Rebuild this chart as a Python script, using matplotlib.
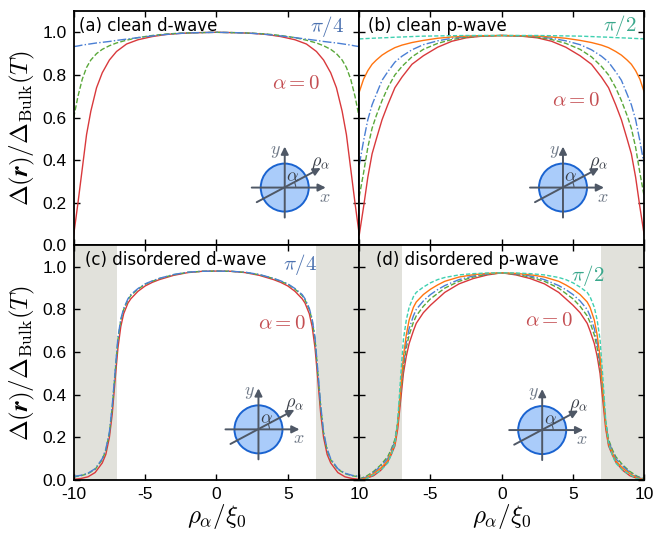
import numpy as np
import matplotlib
matplotlib.use('Agg')
import matplotlib.pyplot as plt
from matplotlib.patches import Circle, Arc

plt.rcParams['mathtext.fontset'] = 'cm'
plt.rcParams['axes.unicode_minus'] = False

# ---- data (left half, curves are mirror symmetric about 0) ----
x_clean = [-10, -9.7, -9.4, -9.1, -8.8, -8.4, -8.0, -7.5, -7.0, -6.3, -5.5, -4.5, -3.5, -2.5, -1.5, 0]

a_alpha0 = [0.05, 0.2, 0.36, 0.52, 0.63, 0.74, 0.81, 0.87, 0.91, 0.945, 0.965, 0.98, 0.99, 0.995, 0.998, 1.0]
a_mid = [0.6, 0.70, 0.78, 0.835, 0.87, 0.9, 0.92, 0.937, 0.95, 0.963, 0.975, 0.985, 0.992, 0.996, 0.998, 1.0]
a_pi4 = [0.933, 0.936, 0.94, 0.943, 0.946, 0.95, 0.953, 0.957, 0.962, 0.968, 0.975, 0.983, 0.99, 0.995, 0.998, 1.0]

b_alpha0 = [0.05, 0.18, 0.32, 0.43, 0.50, 0.59, 0.66, 0.74, 0.79, 0.85, 0.89, 0.93, 0.958, 0.974, 0.981, 0.985]
b_green = [0.23, 0.34, 0.46, 0.55, 0.61, 0.68, 0.74, 0.8, 0.84, 0.885, 0.92, 0.948, 0.966, 0.977, 0.982, 0.985]
b_blue = [0.378, 0.49, 0.59, 0.66, 0.71, 0.775, 0.815, 0.86, 0.888, 0.918, 0.942, 0.96, 0.972, 0.98, 0.983, 0.985]
b_orange = [0.72, 0.78, 0.82, 0.85, 0.87, 0.893, 0.91, 0.928, 0.94, 0.952, 0.962, 0.972, 0.978, 0.982, 0.984, 0.985]
b_pi2 = [0.969, 0.97, 0.971, 0.972, 0.973, 0.974, 0.975, 0.977, 0.978, 0.98, 0.982, 0.983, 0.984, 0.985, 0.985, 0.985]

x_dis = [-10, -9.5, -9, -8.5, -8, -7.75, -7.5, -7.3, -7.1, -6.9, -6.7, -6.5, -6.2, -6, -5.5, -5, -4.5, -4, -3, -2, -1, 0]

c_alpha0 = [0.003, 0.007, 0.015, 0.035, 0.08, 0.12, 0.2, 0.31, 0.47, 0.62, 0.72, 0.78, 0.83, 0.85, 0.885, 0.91, 0.927, 0.94, 0.96, 0.973, 0.979, 0.98]
c_green = [0.015, 0.02, 0.03, 0.05, 0.095, 0.14, 0.22, 0.34, 0.5, 0.66, 0.75, 0.8, 0.845, 0.865, 0.895, 0.918, 0.932, 0.945, 0.963, 0.974, 0.979, 0.98]
c_pi4 = [0.017, 0.022, 0.032, 0.053, 0.1, 0.145, 0.225, 0.35, 0.51, 0.67, 0.755, 0.805, 0.85, 0.87, 0.898, 0.92, 0.934, 0.946, 0.964, 0.975, 0.979, 0.98]

d_alpha0 = [0.0, 0.008, 0.02, 0.045, 0.085, 0.12, 0.16, 0.24, 0.37, 0.5, 0.58, 0.64, 0.7, 0.735, 0.785, 0.82, 0.85, 0.88, 0.92, 0.945, 0.962, 0.972]
d_green = [0.005, 0.018, 0.04, 0.07, 0.11, 0.145, 0.19, 0.27, 0.4, 0.53, 0.62, 0.68, 0.74, 0.77, 0.815, 0.85, 0.875, 0.9, 0.932, 0.952, 0.965, 0.972]
d_blue = [0.003, 0.014, 0.035, 0.065, 0.1, 0.14, 0.18, 0.27, 0.41, 0.55, 0.645, 0.71, 0.77, 0.8, 0.84, 0.87, 0.893, 0.912, 0.94, 0.957, 0.967, 0.972]
d_orange = [0.001, 0.01, 0.03, 0.055, 0.09, 0.13, 0.17, 0.26, 0.42, 0.58, 0.68, 0.75, 0.81, 0.835, 0.87, 0.895, 0.915, 0.932, 0.952, 0.963, 0.969, 0.972]
d_pi2 = [0.0, 0.006, 0.025, 0.045, 0.08, 0.12, 0.17, 0.28, 0.48, 0.66, 0.75, 0.81, 0.86, 0.88, 0.905, 0.925, 0.94, 0.95, 0.962, 0.968, 0.971, 0.972]

xticks = [-10, -5, 0, 5, 10]
yticks = [0.0, 0.2, 0.4, 0.6, 0.8, 1.0]

RED = '#d9393c'
GREEN = '#5aa83a'
BLUE = '#4a7fd4'
ORANGE = '#ff7410'
TEAL = '#3fd0b0'
GREY = '#e1e1db'
ARROW = '#4f5866'


def mirror(x, y):
    x = np.asarray(x, float)
    y = np.asarray(y, float)
    return np.concatenate([x, -x[-2::-1]]), np.concatenate([y, y[-2::-1]])


def draw_inset(ax, cx, cy):
    bb = ax.get_window_extent()
    w = 92.0 / bb.width
    h = 92.0 / bb.height
    ins = ax.inset_axes([cx - w / 2, cy - h / 2, w, h])
    ins.set_xlim(-46, 46)
    ins.set_ylim(-46, 46)
    ins.axis('off')
    ins.patch.set_alpha(0)
    ins.add_patch(Circle((0, 0), 24, facecolor='#aaccfa', edgecolor='#1a63d0', lw=1.4, zorder=1))
    kw = dict(arrowstyle='-|>', color=ARROW, lw=1.4, mutation_scale=11, shrinkA=0, shrinkB=0)
    ins.annotate('', xy=(41, 0), xytext=(-33, 0), arrowprops=kw)
    ins.annotate('', xy=(0, 41), xytext=(0, -30), arrowprops=kw)
    ins.annotate('', xy=(36, 19.5), xytext=(-28, -14.6), arrowprops=kw)
    ins.add_patch(Arc((0, 0), 22, 22, theta1=0, theta2=29, color=ARROW, lw=0.8))
    ins.text(-9, 37, r'$y$', color='#707a88', fontsize=13, ha='center', va='center')
    ins.text(40, -9, r'$x$', color='#707a88', fontsize=13, ha='center', va='center')
    ins.text(36, 26, r'$\rho_\alpha$', color='#3a3f48', fontsize=13, ha='center', va='center')
    ins.text(8, 11, r'$\alpha$', color='#3a3f48', fontsize=13, ha='center', va='center')


fig = plt.figure(figsize=(6.58, 5.33), dpi=100)
axa = fig.add_axes([0.112, 0.5394, 0.434, 0.44])
axb = fig.add_axes([0.546, 0.5394, 0.433, 0.44])
axc = fig.add_axes([0.112, 0.0994, 0.434, 0.44])
axd = fig.add_axes([0.546, 0.0994, 0.433, 0.44])

tickfs = 12.5
for ax in (axa, axb, axc, axd):
    ax.set_xlim(-10, 10)
    ax.set_ylim(0, 1.1)
    ax.set_xticks(xticks)
    ax.set_yticks(yticks)
    ax.tick_params(direction='in', top=True, right=True, length=4, width=1,
                   labelsize=tickfs, pad=5)
    for s in ax.spines.values():
        s.set_linewidth(1.3)

for ax in (axc, axd):
    ax.axvspan(-10, -7, color=GREY, lw=0, zorder=0)
    ax.axvspan(7, 10, color=GREY, lw=0, zorder=0)

axa.tick_params(labelbottom=False)
axb.tick_params(labelbottom=False, labelleft=False)
axd.tick_params(labelleft=False)
axd.set_xticklabels([''] + [str(t) for t in xticks[1:]])
axc.set_xticklabels([str(t) for t in xticks])
for ax in (axa, axb, axc, axd):
    for lab in ax.get_xticklabels() + ax.get_yticklabels():
        lab.set_family('Liberation Sans')

lw = 1.0
# (a)
axa.plot(*mirror(x_clean, a_alpha0), color=RED, lw=lw)
axa.plot(*mirror(x_clean, a_mid), color=GREEN, lw=lw, ls='--')
axa.plot(*mirror(x_clean, a_pi4), color=BLUE, lw=lw, ls='-.')
# (b)
axb.plot(*mirror(x_clean, b_alpha0), color=RED, lw=lw)
axb.plot(*mirror(x_clean, b_green), color=GREEN, lw=lw, ls='--')
axb.plot(*mirror(x_clean, b_blue), color=BLUE, lw=lw, ls='-.')
axb.plot(*mirror(x_clean, b_orange), color=ORANGE, lw=lw)
axb.plot(*mirror(x_clean, b_pi2), color=TEAL, lw=lw, ls=(0, (3, 1.5)))
# (c)
axc.plot(*mirror(x_dis, c_alpha0), color=RED, lw=lw)
axc.plot(*mirror(x_dis, c_green), color=GREEN, lw=lw, ls='--')
axc.plot(*mirror(x_dis, c_pi4), color=BLUE, lw=lw, ls='-.')
# (d)
axd.plot(*mirror(x_dis, d_alpha0), color=RED, lw=lw)
axd.plot(*mirror(x_dis, d_green), color=GREEN, lw=lw, ls='--')
axd.plot(*mirror(x_dis, d_blue), color=BLUE, lw=lw, ls='-.')
axd.plot(*mirror(x_dis, d_orange), color=ORANGE, lw=lw)
axd.plot(*mirror(x_dis, d_pi2), color=TEAL, lw=lw, ls=(0, (3, 1.5)))

fs = 12
lblfs = 18
mfs = 15
axa.text(0.02, 0.935, '(a) clean d-wave', transform=axa.transAxes, fontsize=fs, va='center')
axb.text(0.032, 0.935, '(b) clean p-wave', transform=axb.transAxes, fontsize=fs, va='center')
axc.text(0.039, 0.938, '(c) disordered d-wave', transform=axc.transAxes, fontsize=fs, va='center')
axd.text(0.06, 0.938, '(d) disordered p-wave', transform=axd.transAxes, fontsize=fs, va='center')

axa.text(0.887, 0.933, r'$\pi/4$', transform=axa.transAxes, color='#4c72b0', fontsize=mfs, ha='center', va='center')
axa.text(0.78, 0.692, r'$\alpha=0$', transform=axa.transAxes, color='#c44e52', fontsize=mfs, ha='center', va='center')
axb.text(0.913, 0.94, r'$\pi/2$', transform=axb.transAxes, color='#3aa88c', fontsize=mfs, ha='center', va='center')
axb.text(0.762, 0.62, r'$\alpha=0$', transform=axb.transAxes, color='#c44e52', fontsize=mfs, ha='center', va='center')
axc.text(0.793, 0.917, r'$\pi/4$', transform=axc.transAxes, color='#4c72b0', fontsize=mfs, ha='center', va='center')
axc.text(0.729, 0.671, r'$\alpha=0$', transform=axc.transAxes, color='#c44e52', fontsize=mfs, ha='center', va='center')
axd.text(0.803, 0.874, r'$\pi/2$', transform=axd.transAxes, color='#3aa88c', fontsize=mfs, ha='center', va='center')
axd.text(0.665, 0.682, r'$\alpha=0$', transform=axd.transAxes, color='#c44e52', fontsize=mfs, ha='center', va='center')

ylab = r'$\Delta(\mathbfit{r})/\Delta_{\rm Bulk}(T)$'
axa.set_ylabel(ylab, fontsize=lblfs, labelpad=4)
axc.set_ylabel(ylab, fontsize=lblfs, labelpad=4)
axc.set_xlabel(r'$\rho_\alpha/\xi_0$', fontsize=lblfs, labelpad=0)
axd.set_xlabel(r'$\rho_\alpha/\xi_0$', fontsize=lblfs, labelpad=0)

draw_inset(axa, 0.739, 0.247)
draw_inset(axb, 0.715, 0.247)
draw_inset(axc, 0.647, 0.216)
draw_inset(axd, 0.642, 0.213)

fig.savefig('out.png', dpi=100)
